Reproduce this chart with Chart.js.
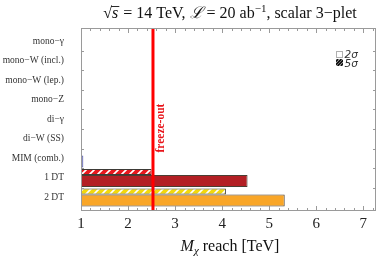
<!DOCTYPE html>
<html>
<head>
<meta charset="utf-8">
<script src="https://cdn.jsdelivr.net/npm/chart.js@4.4.0/dist/chart.umd.min.js"></script>
<style>
  html, body { margin: 0; padding: 0; background: #fff; }
  #wrap { width: 382px; height: 262px; }
</style>
</head>
<body>
<div id="wrap"><canvas id="reachChart" width="382" height="262"></canvas></div>
<script>
// ── Data ───────────────────────────────────────────────────────────────────
const categories   = ['mono−γ', 'mono−W (incl.)', 'mono−W (lep.)', 'mono−Z', 'di−γ', 'di−W (SS)', 'MIM (comb.)', '1 DT', '2 DT'];
const reach2sigma  = [null, null, null, null, null, null, 1.05, 4.54, 5.33];
const reach5sigma  = [null, null, null, null, null, null, null, 2.50, 4.08];
const color2sigma  = [null, null, null, null, null, null, '#6b6fbd', '#b31f24', '#f9a628'];
const color5sigma  = [null, null, null, null, null, null, null, '#e8181e', '#f3d80c'];
const xTicks       = [1, 2, 3, 4, 5, 6, 7];
const freezeOut    = 2.53;
const X_MIN = 1, X_MAX = 7.27;

const SERIF = '"Liberation Serif", "DejaVu Serif", serif';

// ── Hatch patterns for the 5σ bars ─────────────────────────────────────────
function makeHatch(bg, fg) {
    const t = document.createElement('canvas');
    t.width = 8; t.height = 8;
    const c = t.getContext('2d');
    c.fillStyle = bg;
    c.fillRect(0, 0, 8, 8);
    c.strokeStyle = fg;
    c.lineWidth = 1.6;
    c.beginPath();
    c.moveTo(-2, 10); c.lineTo(10, -2);
    c.moveTo(-2, 2);  c.lineTo(2, -2);
    c.moveTo(6, 10);  c.lineTo(10, 6);
    c.stroke();
    return c.createPattern(t, 'repeat');
}
const hatchCache = {};
function hatchFor(col) {
    if (!hatchCache[col]) hatchCache[col] = makeHatch(col, '#ffffff');
    return hatchCache[col];
}

function rowsOf(vals) {
    return vals.map((v, i) => v == null ? null : { x: [X_MIN, v], y: i }).filter(Boolean);
}

// bar geometry in px: thin 5σ bar on top, thick 2σ bar below, pair centred on the row
const ROW = 19.5;
const THIN = 6, THICK = 12;

// ── Overlay plugin: frame, ticks, freeze-out, legend, titles ───────────────
function drawRuns(ctx, runs, cx, baseline) {
    let total = 0;
    runs.forEach(r => { ctx.font = r.font; r.w = ctx.measureText(r.text).width; total += r.w + (r.gap || 0); });
    let x = cx - total / 2;
    runs.forEach(r => {
        ctx.font = r.font;
        ctx.fillText(r.text, x, baseline + (r.dy || 0));
        if (r.overline) {
            ctx.fillRect(x - 1, baseline - 12, r.w + 2, 0.9);
        }
        x += r.w + (r.gap || 0);
    });
}

const overlay = {
    id: 'overlay',
    afterDraw(chart) {
        const { ctx, chartArea: a, scales: { x, y } } = chart;
        ctx.save();

        // freeze-out line
        const fx = x.getPixelForValue(freezeOut);
        ctx.strokeStyle = '#ff0000';
        ctx.lineWidth = 3;
        ctx.beginPath();
        ctx.moveTo(fx, a.top);
        ctx.lineTo(fx, a.bottom);
        ctx.stroke();

        ctx.save();
        ctx.translate(fx + 8.5, y.getPixelForValue(4.45));
        ctx.rotate(-Math.PI / 2);
        ctx.fillStyle = '#e8141a';
        ctx.font = 'bold 11.5px ' + SERIF;
        ctx.textAlign = 'center';
        ctx.textBaseline = 'middle';
        ctx.fillText('freeze-out', 0, 0);
        ctx.restore();

        // frame
        ctx.strokeStyle = '#9a9a9a';
        ctx.lineWidth = 1;
        ctx.strokeRect(Math.round(a.left) + 0.5, Math.round(a.top) + 0.5,
                       Math.round(a.right - a.left) - 1, Math.round(a.bottom - a.top) - 1);

        // x ticks (major + minor), bottom and top, pointing inward
        ctx.beginPath();
        for (let v = X_MIN; v <= X_MAX + 1e-9; v += 0.2) {
            const isMajor = Math.abs(v - Math.round(v)) < 1e-6;
            const len = isMajor ? 5 : 3;
            const px = Math.round(x.getPixelForValue(v)) + 0.5;
            ctx.moveTo(px, a.bottom); ctx.lineTo(px, a.bottom - len);
            ctx.moveTo(px, a.top);    ctx.lineTo(px, a.top + len);
        }
        // y ticks at row boundaries, left and right
        for (let i = 0; i < categories.length - 1; i++) {
            const py = Math.round(y.getPixelForValue(i + 0.5)) + 0.5;
            ctx.moveTo(a.left, py);  ctx.lineTo(a.left + 3, py);
            ctx.moveTo(a.right, py); ctx.lineTo(a.right - 3, py);
        }
        ctx.stroke();

        // legend
        ctx.fillStyle = '#fff';
        ctx.strokeStyle = '#b0b0b0';
        ctx.strokeRect(336.5, 51.5, 6, 6);
        ctx.save();
        ctx.beginPath();
        ctx.rect(336, 59, 7, 7);
        ctx.clip();
        ctx.strokeStyle = '#111';
        ctx.lineWidth = 1.8;
        ctx.beginPath();
        for (let k = -8; k <= 8; k += 3.2) {
            ctx.moveTo(336 + k, 66); ctx.lineTo(343 + k, 59);
        }
        ctx.stroke();
        ctx.restore();
        ctx.fillStyle = '#333';
        ctx.textAlign = 'left';
        ctx.textBaseline = 'alphabetic';
        ctx.font = 'italic 10.5px "DejaVu Sans", sans-serif';
        ctx.fillText('2σ', 344.5, 58);
        ctx.fillText('5σ', 344.5, 66.5);

        // chart title
        ctx.fillStyle = '#111';
        ctx.textAlign = 'left';
        const f = '16px ' + SERIF, fi = 'italic 16px ' + SERIF;
        drawRuns(ctx, [
            { text: '√', font: f },
            { text: 's', font: fi, overline: true, gap: 1 },
            { text: ' = 14 TeV, ', font: f },
            { text: 'ℒ', font: fi },
            { text: ' = 20 ab', font: f },
            { text: '−1', font: '11px ' + SERIF, dy: -6 },
            { text: ', scalar 3−plet', font: f }
        ], 230, 18);

        // x-axis title
        drawRuns(ctx, [
            { text: 'M', font: fi },
            { text: 'χ', font: 'italic 11px ' + SERIF, dy: 3 },
            { text: ' reach [TeV]', font: f }
        ], 230, 251);

        ctx.restore();
    }
};

// ── Chart ──────────────────────────────────────────────────────────────────
const reachCtx = document.getElementById('reachChart').getContext('2d');
const reachChart = new Chart(reachCtx, {
    type: 'bar',
    data: {
        datasets: [
            {
                label: '5σ',
                data: rowsOf(reach5sigma),
                backgroundColor: c => c.raw ? hatchFor(color5sigma[c.raw.y]) : '#fff',
                borderColor: '#3d3a36',
                borderWidth: 1,
                borderSkipped: false,
                categoryPercentage: 2 * THICK / ROW,
                barPercentage: THIN / THICK
            },
            {
                label: '2σ',
                data: rowsOf(reach2sigma),
                backgroundColor: c => c.raw ? color2sigma[c.raw.y] : '#fff',
                borderColor: c => c.raw && c.raw.y === 6 ? '#5a5eaa' : '#4a3e33',
                borderWidth: 1,
                borderSkipped: false,
                categoryPercentage: 2 * THIN / ROW,
                barPercentage: THICK / THIN
            }
        ]
    },
    options: {
        indexAxis: 'y',
        responsive: false,
        animation: false,
        layout: { padding: { top: 28, right: 6, left: 0, bottom: 0 } },
        plugins: {
            legend: { display: false },
            tooltip: { enabled: false }
        },
        scales: {
            x: {
                type: 'linear',
                min: X_MIN,
                max: X_MAX,
                afterBuildTicks: s => { s.ticks = xTicks.map(v => ({ value: v })); },
                afterFit: s => { s.height = 51; },
                grid: { display: false, drawTicks: false },
                border: { display: false },
                ticks: { color: '#222', padding: 4, font: { family: SERIF, size: 15 }, maxRotation: 0 }
            },
            y: {
                type: 'linear',
                reverse: true,
                offset: false,
                min: -0.667,
                max: 8.69,
                afterBuildTicks: s => { s.ticks = categories.map((_, i) => ({ value: i })); },
                afterFit: s => { s.width = 81; },
                grid: { display: false, drawTicks: false, offset: false },
                border: { display: false },
                ticks: {
                    autoSkip: false,
                    color: '#333',
                    padding: 17,
                    font: { family: SERIF, size: 9.5 },
                    callback: v => categories[v]
                }
            }
        }
    },
    plugins: [overlay]
});
</script>
</body>
</html>
